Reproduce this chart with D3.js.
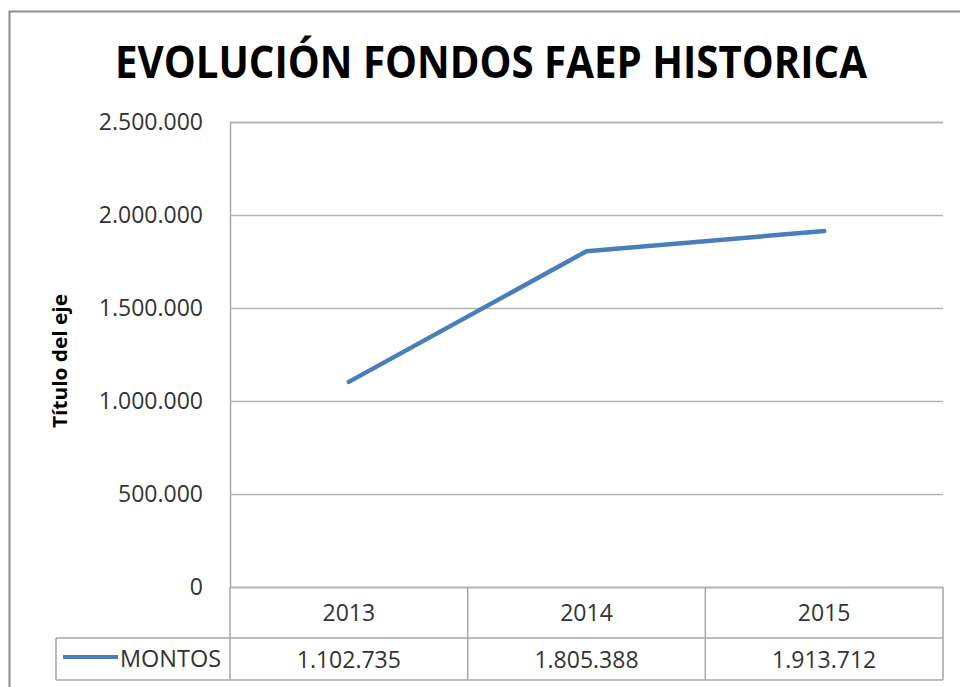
<!DOCTYPE html>
<html>
<head>
<meta charset="utf-8">
<script src="https://cdnjs.cloudflare.com/ajax/libs/d3/7.8.5/d3.min.js"></script>
<style>
  body { margin: 0; background: #fff; }
  svg { display: block; font-family: "Open Sans", "Noto Sans", sans-serif; }
</style>
</head>
<body>
<svg width="960" height="687"></svg>
<script>
// datos del gráfico
var titulo = "EVOLUCIÓN FONDOS FAEP HISTORICA";
var tituloEje = "Título del eje";
var serie = "MONTOS";
var anios = ["2013", "2014", "2015"];
var montos = [1102735, 1805388, 1913712];
var ticksY = [0, 500000, 1000000, 1500000, 2000000, 2500000];

var svg = d3.select("svg"),
    width = +svg.attr("width"),
    height = +svg.attr("height");

var fuente = '"Open Sans", "Noto Sans", sans-serif';

// formato con punto de miles
var fmt = d3.formatLocale({ decimal: ",", thousands: ".", grouping: [3], currency: ["$", ""] }).format(",d");

var m = { left: 230, right: 943, top: 122, bottom: 587 };
var filaAlto1 = 51, filaAlto2 = 42;

// marco exterior
svg.append("rect")
    .attr("x", 9.5).attr("y", 11.5)
    .attr("width", width - 8).attr("height", height)
    .attr("fill", "none").attr("stroke", "#8c8c8c").attr("stroke-width", 2);

// titulo
svg.append("text")
    .attr("x", 491).attr("y", 78)
    .attr("text-anchor", "middle")
    .attr("font-size", 44).attr("font-weight", "bold")
    .attr("textLength", 752).attr("lengthAdjust", "spacingAndGlyphs")
    .attr("fill", "#000")
    .text(titulo);

var x = d3.scaleBand().domain(anios).range([m.left, m.right]);
var y = d3.scaleLinear().domain([0, 2500000]).range([m.bottom, m.top]);

// lineas de cuadricula
var yAxis = d3.axisLeft(y).tickValues(ticksY).tickFormat(fmt)
    .tickSize(-(m.right - m.left)).tickPadding(27);
var gy = svg.append("g")
    .attr("transform", "translate(" + m.left + ",0)")
    .call(yAxis)
    .attr("font-family", fuente);
gy.select(".domain").attr("stroke", "#a6a6a6").attr("stroke-width", 1.5);
gy.selectAll(".tick line").attr("stroke", "#b3b3b3").attr("stroke-width", 1.5);
gy.selectAll(".tick text")
    .attr("font-size", 23).attr("fill", "#333");

// titulo eje Y
svg.append("text")
    .attr("transform", "translate(67,361) rotate(-90)")
    .attr("text-anchor", "middle")
    .attr("font-size", 20).attr("font-weight", "bold")
    .attr("textLength", 134).attr("lengthAdjust", "spacingAndGlyphs")
    .attr("fill", "#000")
    .text(tituloEje);

// tabla de datos
var tabla = svg.append("g").attr("stroke", "#a6a6a6").attr("stroke-width", 1.5).attr("fill", "none");
var yFila1 = m.bottom, yFila2 = m.bottom + filaAlto1, yFin = yFila2 + filaAlto2;
tabla.append("line").attr("x1", 56).attr("x2", m.right).attr("y1", yFila2).attr("y2", yFila2);
tabla.append("line").attr("x1", 56).attr("x2", m.right).attr("y1", yFin).attr("y2", yFin);
tabla.append("line").attr("x1", 56).attr("x2", 56).attr("y1", yFila2).attr("y2", yFin);
tabla.append("line").attr("x1", m.right).attr("x2", m.right).attr("y1", yFila1).attr("y2", yFin);
tabla.selectAll(".sep").data(anios).enter().append("line")
    .attr("x1", function(d) { return x(d); })
    .attr("x2", function(d) { return x(d); })
    .attr("y1", yFila1).attr("y2", yFin);

svg.append("g").selectAll("text").data(anios).enter().append("text")
    .attr("x", function(d) { return x(d) + x.bandwidth() / 2; })
    .attr("y", yFila1 + 34)
    .attr("text-anchor", "middle").attr("font-size", 23).attr("fill", "#333")
    .text(function(d) { return d; });

svg.append("g").selectAll("text").data(montos).enter().append("text")
    .attr("x", function(d, i) { return x(anios[i]) + x.bandwidth() / 2; })
    .attr("y", yFila2 + 30)
    .attr("text-anchor", "middle").attr("font-size", 23).attr("fill", "#333")
    .text(function(d) { return fmt(d); });

// leyenda
svg.append("line")
    .attr("x1", 63).attr("x2", 118).attr("y1", yFila2 + 19).attr("y2", yFila2 + 19)
    .attr("stroke", "#4a7ebb").attr("stroke-width", 4);
svg.append("text")
    .attr("x", 120).attr("y", yFila2 + 29)
    .attr("font-size", 23).attr("fill", "#333")
    .attr("textLength", 101).attr("lengthAdjust", "spacingAndGlyphs")
    .text(serie);

// linea de la serie
var linea = d3.line()
    .x(function(d, i) { return x(anios[i]) + x.bandwidth() / 2; })
    .y(function(d) { return y(d); });
svg.append("path")
    .datum(montos)
    .attr("d", linea)
    .attr("fill", "none")
    .attr("stroke", "#4a7ebb")
    .attr("stroke-width", 4.5)
    .attr("stroke-linecap", "round")
    .attr("stroke-linejoin", "round");
</script>
</body>
</html>
